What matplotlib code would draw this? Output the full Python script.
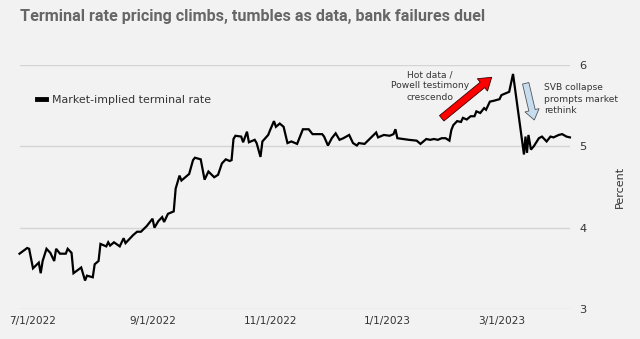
import matplotlib
matplotlib.use("Agg")
import matplotlib.pyplot as plt
from matplotlib import font_manager
from matplotlib.patches import FancyArrow
import pandas as pd

# Market-implied terminal fed funds rate, percent
dates = [
    "2022-06-24", "2022-06-28", "2022-06-29", "2022-07-01", "2022-07-04", "2022-07-05",
    "2022-07-06", "2022-07-08", "2022-07-10", "2022-07-12", "2022-07-13", "2022-07-15",
    "2022-07-18", "2022-07-19", "2022-07-21", "2022-07-22", "2022-07-26", "2022-07-28",
    "2022-07-29", "2022-08-01", "2022-08-02", "2022-08-04", "2022-08-05", "2022-08-08",
    "2022-08-09", "2022-08-10", "2022-08-12", "2022-08-15", "2022-08-17", "2022-08-18",
    "2022-08-22", "2022-08-24", "2022-08-26", "2022-08-29", "2022-09-01", "2022-09-02",
    "2022-09-04", "2022-09-06", "2022-09-07", "2022-09-09", "2022-09-12", "2022-09-13",
    "2022-09-15", "2022-09-16", "2022-09-20", "2022-09-22", "2022-09-23", "2022-09-26",
    "2022-09-28", "2022-09-30", "2022-10-03", "2022-10-05", "2022-10-07", "2022-10-09",
    "2022-10-11", "2022-10-12", "2022-10-13", "2022-10-14", "2022-10-17", "2022-10-18",
    "2022-10-20", "2022-10-21", "2022-10-24", "2022-10-25", "2022-10-27", "2022-10-28",
    "2022-10-31", "2022-11-01", "2022-11-03", "2022-11-04", "2022-11-06", "2022-11-08",
    "2022-11-10", "2022-11-12", "2022-11-15", "2022-11-18", "2022-11-21", "2022-11-23",
    "2022-11-26", "2022-11-28", "2022-11-29", "2022-12-01", "2022-12-03", "2022-12-05",
    "2022-12-07", "2022-12-09", "2022-12-12", "2022-12-14", "2022-12-16", "2022-12-17",
    "2022-12-20", "2022-12-23", "2022-12-26", "2022-12-27", "2022-12-30", "2023-01-02",
    "2023-01-04", "2023-01-05", "2023-01-06", "2023-01-09", "2023-01-12", "2023-01-16",
    "2023-01-18", "2023-01-20", "2023-01-21", "2023-01-23", "2023-01-25", "2023-01-27",
    "2023-01-29", "2023-01-31", "2023-02-02", "2023-02-03", "2023-02-04", "2023-02-06",
    "2023-02-08", "2023-02-09", "2023-02-11", "2023-02-13", "2023-02-15", "2023-02-16",
    "2023-02-18", "2023-02-20", "2023-02-21", "2023-02-23", "2023-02-25", "2023-02-28",
    "2023-03-01", "2023-03-05", "2023-03-07",
    "2023-03-12 16:00", "2023-03-13 11:00", "2023-03-14 06:00", "2023-03-15 00:00",
    "2023-03-16 07:00", "2023-03-17 18:00", "2023-03-20 10:00", "2023-03-22 00:00",
    "2023-03-24 10:00", "2023-03-26 10:00", "2023-03-28 00:00", "2023-03-30 17:00",
    "2023-04-01 12:00", "2023-04-03 17:00", "2023-04-05 12:00",
]
terminal_rate = [
    3.68, 3.75, 3.74, 3.50, 3.57, 3.44,
    3.59, 3.74, 3.69, 3.59, 3.74, 3.68,
    3.68, 3.74, 3.69, 3.44, 3.51, 3.35,
    3.41, 3.39, 3.55, 3.59, 3.80, 3.77,
    3.82, 3.78, 3.82, 3.77, 3.87, 3.81,
    3.91, 3.95, 3.95, 4.02, 4.11, 4.00,
    4.08, 4.13, 4.07, 4.17, 4.20, 4.48,
    4.64, 4.58, 4.66, 4.83, 4.86, 4.84,
    4.59, 4.69, 4.62, 4.65, 4.79, 4.84,
    4.82, 4.83, 5.09, 5.13, 5.12, 5.05,
    5.18, 5.05, 5.08, 5.04, 4.87, 5.06,
    5.14, 5.20, 5.31, 5.24, 5.28, 5.24,
    5.04, 5.06, 5.03, 5.21, 5.21, 5.15,
    5.15, 5.15, 5.12, 5.01, 5.10, 5.16,
    5.08, 5.10, 5.14, 5.04, 5.01, 5.04,
    5.03, 5.10, 5.17, 5.11, 5.14, 5.13,
    5.15, 5.21, 5.10, 5.09, 5.08, 5.07,
    5.03, 5.07, 5.09, 5.08, 5.09, 5.08,
    5.10, 5.10, 5.07, 5.20, 5.26, 5.31,
    5.30, 5.35, 5.33, 5.37, 5.37, 5.43,
    5.41, 5.47, 5.45, 5.55, 5.56, 5.58,
    5.63, 5.67, 5.89,
    4.90, 5.12, 4.92, 5.14,
    4.96, 5.00, 5.10, 5.12,
    5.06, 5.12, 5.11, 5.14,
    5.15, 5.12, 5.11,
]
x_ticks = ["2022-07-01", "2022-09-01", "2022-11-01", "2023-01-01", "2023-03-01"]
x_tick_labels = ["7/1/2022", "9/1/2022", "11/1/2022", "1/1/2023", "3/1/2023"]
y_ticks = [3, 4, 5, 6]

BG = "#f2f2f2"
TEXT = "#333333"

# a narrow bold face for the headline, if one is installed
installed = {f.name for f in font_manager.fontManager.ttflist}
title_family = next((f for f in ["Liberation Sans Narrow", "Roboto", "Lato", "DejaVu Sans"]
                     if f in installed), "DejaVu Sans")

t = pd.to_datetime(dates, format="ISO8601")

fig = plt.figure(figsize=(6.4, 3.39), dpi=100, facecolor=BG)
ax = fig.add_axes([19.5 / 640, 30 / 339, 550.4 / 640, 244 / 339])
ax.set_facecolor(BG)

ax.plot(t, terminal_rate, color="black", lw=1.6, solid_joinstyle="miter",
        clip_on=False, zorder=3, label="Market-implied terminal rate")

ax.set_xlim(t[0], t[-1])
ax.set_ylim(3, 6)
ax.set_yticks(y_ticks)
ax.set_yticklabels([str(v) for v in y_ticks])
ax.yaxis.tick_right()
ax.yaxis.set_label_position("right")
ax.grid(axis="y", color="#d4d4d4", lw=1)
ax.set_xticks(pd.to_datetime(x_ticks))
ax.set_xticklabels(x_tick_labels)
ax.tick_params(axis="x", length=0, colors=TEXT, labelsize=7.6, pad=5)
ax.tick_params(axis="y", length=0, colors=TEXT, labelsize=8.2, pad=7)
for s in ax.spines.values():
    s.set_visible(False)
ax.set_ylabel("Percent", color=TEXT, fontsize=8, labelpad=20)

leg = ax.legend(loc="center left", bbox_to_anchor=(0.0, 1 - 35 / 244), frameon=False,
                fontsize=7.9, handlelength=0.8, handletextpad=0.6, labelcolor=TEXT,
                borderaxespad=1.2)
for h in leg.get_lines():
    h.set_linewidth(3.5)

# headline, fitted to the header width
title = fig.text(20 / 640, 1 - 17 / 339,
                 "Terminal rate pricing climbs, tumbles as data, bank failures duel",
                 ha="left", va="center", fontsize=12, fontweight="bold",
                 color="#666666", family=title_family)
fig.canvas.draw()
w = title.get_window_extent().width
title.set_fontsize(12 * 463 / w)

# annotations
fig.text(430 / 640, 1 - 86 / 339, "Hot data /\nPowell testimony\ncrescendo",
         ha="center", va="center", fontsize=6.6, color=TEXT, linespacing=1.3)
fig.text(544 / 640, 1 - 99 / 339, "SVB collapse\nprompts market\nrethink",
         ha="left", va="center", fontsize=6.6, color=TEXT, linespacing=1.3)

inch = fig.dpi_scale_trans
fig.patches.append(FancyArrow(4.417, (339 - 118.3) / 100, 0.50, 0.41, width=0.07,
                              head_width=0.16, head_length=0.12,
                              length_includes_head=True, facecolor="#ff0000",
                              edgecolor="#3a0000", lw=0.6, transform=inch))
fig.patches.append(FancyArrow(5.257, (339 - 83.3) / 100, 0.086, -0.367, width=0.065,
                              head_width=0.145, head_length=0.1,
                              length_includes_head=True, facecolor="#c6dcef",
                              edgecolor="#555555", lw=0.6, transform=inch))

fig.savefig("out.png", dpi=100, facecolor=BG)
